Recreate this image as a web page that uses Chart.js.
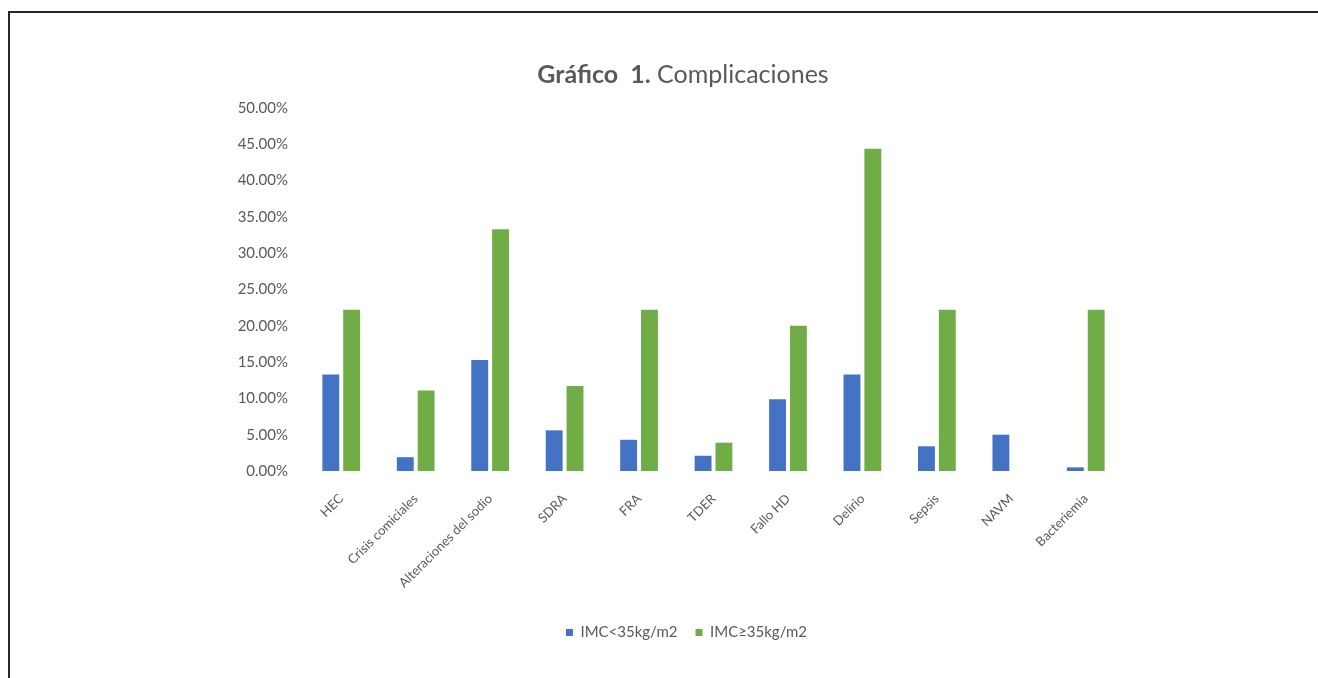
<!DOCTYPE html>
<html>
<head>
<meta charset="utf-8">
<script src="https://cdn.jsdelivr.net/npm/chart.js@4"></script>
<style>
  html, body { margin: 0; padding: 0; background: #fff; }
  body { width: 1318px; height: 678px; position: relative; overflow: hidden; font-family: Lato, "Open Sans", sans-serif; }
  #frame { position: absolute; left: 8px; top: 11px; width: 1400px; height: 800px; border: 2px solid #262626; box-sizing: border-box; }
  #title { position: absolute; left: 0; width: 1366px; top: 58px; text-align: center; font-size: 25px; color: #595959; }
  #wrap { position: absolute; left: 0; top: 0; width: 1318px; height: 678px; }
</style>
</head>
<body>
<div id="frame"></div>
<div id="wrap"><canvas id="chart"></canvas></div>
<div id="title"><b>Gráfico&nbsp; 1.</b> Complicaciones</div>
<script>
const categories = ["HEC", "Crisis comiciales", "Alteraciones del sodio", "SDRA", "FRA", "TDER",
                    "Fallo HD", "Delirio", "Sepsis", "NAVM", "Bacteriemia"];
const imcBajo = [13.3, 1.9, 15.3, 5.6, 4.3, 2.1, 9.9, 13.3, 3.4, 5.0, 0.5];
const imcAlto = [22.2, 11.1, 33.3, 11.7, 22.2, 3.9, 20.0, 44.4, 22.2, 0, 22.2];
const seriesNames = ["IMC<35kg/m2", "IMC≥35kg/m2"];

const gray = "#595959";

// the original legend sits a bit right of the plot centre
const shiftLegend = {
    id: "shiftLegend",
    afterLayout(chart){
        if(!chart.legend) return;
        chart.legend.left += 15;
        chart.legend.right += 15;
    }
};

new Chart(document.getElementById("chart"), {
    type: "bar",
    data: {
        labels: categories,
        datasets: [
            {label: seriesNames[0], data: imcBajo, backgroundColor: "#4472C4"},
            {label: seriesNames[1], data: imcAlto, backgroundColor: "#70AD47"}
        ]
    },
    plugins: [shiftLegend],
    options: {
        responsive: true,
        maintainAspectRatio: false,
        animation: false,
        datasets: {bar: {categoryPercentage: 0.56, barPercentage: 0.81}},
        layout: {padding: {left: 220, right: 195, top: 108, bottom: 28}},
        plugins: {
            title: {display: false},
            tooltip: {enabled: false},
            legend: {
                position: "bottom",
                labels: {
                    boxWidth: 7, boxHeight: 7, padding: 18,
                    color: gray,
                    font: {family: "Lato", size: 15}
                }
            }
        },
        scales: {
            x: {
                grid: {display: false, drawTicks: false},
                border: {display: false},
                ticks: {
                    color: gray, font: {family: "Lato", size: 13},
                    minRotation: 45, maxRotation: 45, padding: 20, autoSkip: false
                },
                afterFit: s => { s.height = 136; }
            },
            y: {
                min: 0, max: 50,
                grid: {display: false, drawTicks: false},
                border: {display: false},
                ticks: {
                    stepSize: 5, padding: 16,
                    color: gray, font: {family: "Lato", size: 15},
                    callback: v => v.toFixed(2) + "%"
                },
                afterFit: s => { s.width = 84; }
            }
        }
    }
});
</script>
</body>
</html>
